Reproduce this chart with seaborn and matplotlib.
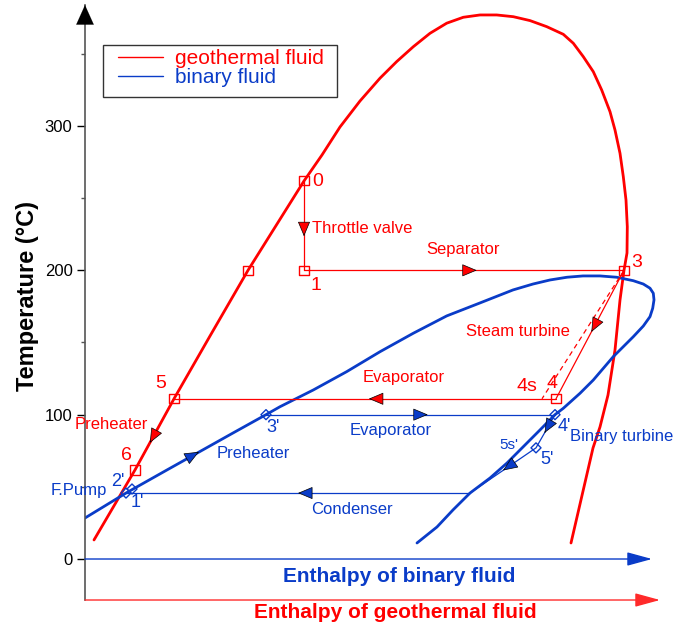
import matplotlib
matplotlib.use("Agg")
import matplotlib.pyplot as plt
import seaborn as sns
from matplotlib.lines import Line2D
from matplotlib.patches import Rectangle

# ---------------- data (enthalpy in arbitrary units, temperature in °C) ----------------
# saturation dome of the geothermal fluid (water)
geo_dome_h = [9, 50, 89, 125, 163, 219, 237, 255, 275, 295, 311.7, 328.3, 345, 361.7,
              378.3, 395, 411.7, 428.3, 445, 461.7, 478.3, 488.3, 498.3, 508.3, 516.7,
              525, 530, 535, 538.3, 541, 542.3, 542, 539, 535, 530, 523, 515, 508, 486]
geo_dome_T = [13.2, 61.7, 111.0, 154.5, 200.0, 261.9, 279.9, 299.3, 317.3, 333.1, 344.6,
              354.9, 364.2, 371.2, 375.3, 376.9, 376.9, 375.7, 373.0, 368.8, 363.5, 357.3,
              348.0, 337.6, 324.9, 309.9, 297.2, 281.1, 264.9, 248.7, 230.2, 212.0, 200.0,
              179.4, 144.8, 113.6, 91.5, 76.9, 11.1]

# saturation dome of the binary fluid
bin_dome_h = [0, 41, 82, 106, 148, 181, 195, 228.3, 261.7, 295, 328.3, 361.7, 395, 428,
              448, 465, 482, 498, 515, 531.7, 548.3, 558.3, 565, 568.3, 569,
              567.7, 565, 558.3, 548.3, 538.3, 528.3, 518.3, 508.3, 495, 478.3, 470, 455,
              438, 422, 405, 385, 368, 352, 332]
bin_dome_T = [28.4, 45.7, 61.7, 71.0, 87.3, 100.0, 105.5, 117.1, 129.8, 143.6, 156.4,
              168.4, 177.4, 186.4, 190.5, 193.3, 195.2, 196.1, 196.1, 195.2, 192.8,
              190.5, 187.6, 184.1, 179.5, 173.7, 167.9, 161.4, 154.0, 147.1, 140.2, 132.1,
              124.0, 114.8, 104.4, 100.0, 89.4, 77.6, 66.5, 56.1, 45.7, 34.0, 22.2, 11.1]

# geothermal-fluid state points
geo_pt_labels = ["0", "1", "3", "4", "4s", "5", "6", ""]
geo_pt_h = [219, 219, 539, 471, 457, 89, 50, 163]
geo_pt_T = [262.0, 200.0, 200.0, 111.0, 111.0, 111.0, 61.7, 200.0]

# binary-fluid state points ("c" = condenser inlet on the dome)
bin_pt_labels = ["1'", "2'", "3'", "4'", "5'", "c"]
bin_pt_h = [41, 47, 181, 470, 451, 385]
bin_pt_T = [45.7, 48.5, 100.0, 100.0, 77.0, 45.7]

RED = "#ff0000"
BLUE = "#0a3cc8"

sns.set_theme(style="ticks")
plt.rcParams["font.family"] = ["Liberation Sans", "DejaVu Sans"]

W, H = 677, 631
fig = plt.figure(figsize=(W / 100, H / 100), dpi=100)
ax = fig.add_axes([85 / W, 31 / H, 592 / W, 595 / H])
ax.set_xlim(0, 592)
ax.set_ylim(-28.4, 383.8)


def D(px, py):
    """pixel position of the reference image -> data coordinates"""
    return (px - 85.0, (559.0 - py) / 1.4433)


# ---------------- domes ----------------
sns.lineplot(x=geo_dome_h, y=geo_dome_T, sort=False, estimator=None, color=RED,
             lw=2.0, ax=ax)
sns.lineplot(x=bin_dome_h, y=bin_dome_T, sort=False, estimator=None, color=BLUE,
             lw=2.0, ax=ax)

G = {k: (h, t) for k, h, t in zip(geo_pt_labels, geo_pt_h, geo_pt_T)}
B = {k: (h, t) for k, h, t in zip(bin_pt_labels, bin_pt_h, bin_pt_T)}


def seg(points, color, ls="-", lw=0.9):
    xs = [p[0] for p in points]
    ys = [p[1] for p in points]
    sns.lineplot(x=xs, y=ys, sort=False, estimator=None, color=color, lw=lw,
                 ls=ls, ax=ax)


# geothermal process lines
seg([G["0"], G["1"]], RED)
seg([G["1"], G["3"]], RED)
seg([G["3"], G["4"]], RED)
seg([G["3"], G["4s"]], RED, ls=(0, (4, 3)))
seg([G["4"], G["5"]], RED)
seg([G["5"], G["6"]], RED)
# binary process lines
seg([B["c"], B["1'"]], BLUE)
seg([B["3'"], B["4'"]], BLUE)
seg([B["4'"], B["5'"], B["c"]], BLUE)


def arrowhead(p0, p1, frac, color):
    tx = p0[0] + frac * (p1[0] - p0[0])
    ty = p0[1] + frac * (p1[1] - p0[1])
    bx = tx - 0.03 * (p1[0] - p0[0])
    by = ty - 0.03 * (p1[1] - p0[1])
    ax.annotate("", xy=(tx, ty), xytext=(bx, by),
                arrowprops=dict(arrowstyle="-|>,head_length=0.95,head_width=0.4",
                                mutation_scale=10, facecolor=color, edgecolor="black",
                                lw=0.5, shrinkA=0, shrinkB=0), zorder=5)


arrowhead(G["0"], G["1"], 0.62, RED)
arrowhead(G["1"], G["3"], 0.54, RED)
arrowhead(G["3"], G["4"], 0.48, RED)
arrowhead(G["4"], G["5"], 0.49, RED)
arrowhead(G["5"], G["6"], 0.62, RED)
arrowhead(B["2'"], B["3'"], 0.5, BLUE)
arrowhead(B["3'"], B["4'"], 0.56, BLUE)
arrowhead(B["4'"], B["5'"], 0.55, BLUE)
arrowhead(B["5'"], B["c"], 0.5, BLUE)
arrowhead(B["c"], B["1'"], 0.5, BLUE)

# state point markers
sq = [k for k in geo_pt_labels if k != "4s"]
sns.scatterplot(x=[G[k][0] for k in sq], y=[G[k][1] for k in sq], marker="s", s=45,
                color=RED, facecolors="none", edgecolors=RED, linewidth=1.0,
                zorder=6, ax=ax)
dm = [k for k in bin_pt_labels if k != "c"]
sns.scatterplot(x=[B[k][0] for k in dm], y=[B[k][1] for k in dm], marker="D", s=26,
                color=BLUE, facecolors="none", edgecolors=BLUE, linewidth=1.0,
                zorder=6, ax=ax)

# ---------------- annotations ----------------
texts = [
    ("0", 318, 182, "center", 14, RED), ("1", 316, 286, "center", 14, RED),
    ("3", 637, 263, "center", 14, RED), ("4", 552, 384, "center", 14, RED),
    ("4s", 527, 387, "center", 14, RED), ("5", 161, 384, "center", 14, RED),
    ("6", 126, 456, "center", 14, RED),
    ("Throttle valve", 312, 229, "left", 12, RED),
    ("Separator", 463, 250, "center", 12, RED),
    ("Steam turbine", 518, 332, "center", 12, RED),
    ("Evaporator", 404, 378, "center", 12, RED),
    ("Preheater", 111, 425, "center", 12, RED),
    ("3'", 273, 428, "center", 13, BLUE), ("2'", 118, 482, "center", 13, BLUE),
    ("1'", 137, 503, "center", 13, BLUE), ("4'", 564, 427, "center", 13, BLUE),
    ("5'", 547, 460, "center", 13, BLUE), ("5s'", 509, 445, "center", 11, BLUE),
    ("Evaporator", 391, 431, "center", 12, BLUE),
    ("Preheater", 253, 454, "center", 12, BLUE),
    ("F.Pump", 79, 491, "center", 12, BLUE),
    ("Condenser", 352, 510, "center", 12, BLUE),
    ("Binary turbine", 622, 437, "center", 12, BLUE),
]
for s, px, py, ha, fs, c in texts:
    x, y = D(px, py)
    ax.text(x, y, s, ha=ha, va="center", fontsize=fs, color=c, zorder=7, clip_on=False)

# ---------------- axes decoration ----------------
for side in ["top", "right", "bottom"]:
    ax.spines[side].set_visible(False)
ax.spines["left"].set_color("#555555")
ax.spines["left"].set_linewidth(1.2)
ax.set_xticks([])
ax.set_yticks([0, 100, 200, 300])
ax.set_yticks([50, 150, 250, 350], minor=True)
ax.tick_params(axis="y", which="major", length=6, width=1.0, color="black",
               labelsize=12, labelcolor="black", pad=3)
ax.tick_params(axis="y", which="minor", length=3, width=1.0, color="#555555")

# y-axis arrow head
ax.annotate("", xy=(0, 1.0), xytext=(0, 0.97), xycoords="axes fraction",
            arrowprops=dict(arrowstyle="-|>,head_length=1.0,head_width=0.45",
                            mutation_scale=14, color="black", lw=0.1,
                            shrinkA=0, shrinkB=0), annotation_clip=False)
# enthalpy axes (arrows)
ax.annotate("", xy=D(652, 559), xytext=D(85, 559),
            arrowprops=dict(arrowstyle="-|>,head_length=1.1,head_width=0.3",
                            mutation_scale=14, color=BLUE, lw=1.0,
                            shrinkA=0, shrinkB=0), annotation_clip=False)
ax.annotate("", xy=D(660, 600), xytext=D(85, 600),
            arrowprops=dict(arrowstyle="-|>,head_length=1.1,head_width=0.3",
                            mutation_scale=14, color="#ff2a2a", lw=1.0,
                            shrinkA=0, shrinkB=0), annotation_clip=False)

fig.text(399 / W, 1 - 576 / H, "Enthalpy of binary fluid", ha="center", va="center",
         fontsize=15, fontweight="bold", color=BLUE)
fig.text(395 / W, 1 - 612 / H, "Enthalpy of geothermal fluid", ha="center",
         va="center", fontsize=15, fontweight="bold", color=RED)

ax.set_ylabel("Temperature (°C)", fontsize=17, fontweight="bold", color="black")
ax.yaxis.set_label_coords((27 - 85) / 592, (600 - 296) / 595)
ax.yaxis.label.set_verticalalignment("center")

# legend (frame drawn separately to match the reference box)
handles = [Line2D([], [], color=RED, lw=1.0), Line2D([], [], color=BLUE, lw=1.0)]
leg = ax.legend(handles, ["geothermal fluid", "binary fluid"], loc="upper left",
                bbox_to_anchor=((118 - 85) / 592, (600 - 49) / 595), borderaxespad=0,
                frameon=False, fontsize=15, handlelength=2.16, handletextpad=0.58,
                labelspacing=0.0, borderpad=0.0, labelcolor=[RED, BLUE])
leg.set_zorder(10)
ax.add_patch(Rectangle((103 / W, 1 - 97 / H), 234 / W, 52 / H, transform=fig.transFigure,
                       fill=True, facecolor="white", edgecolor="#333333", lw=1.0,
                       clip_on=False, zorder=9))

fig.savefig("out.png", dpi=100)
